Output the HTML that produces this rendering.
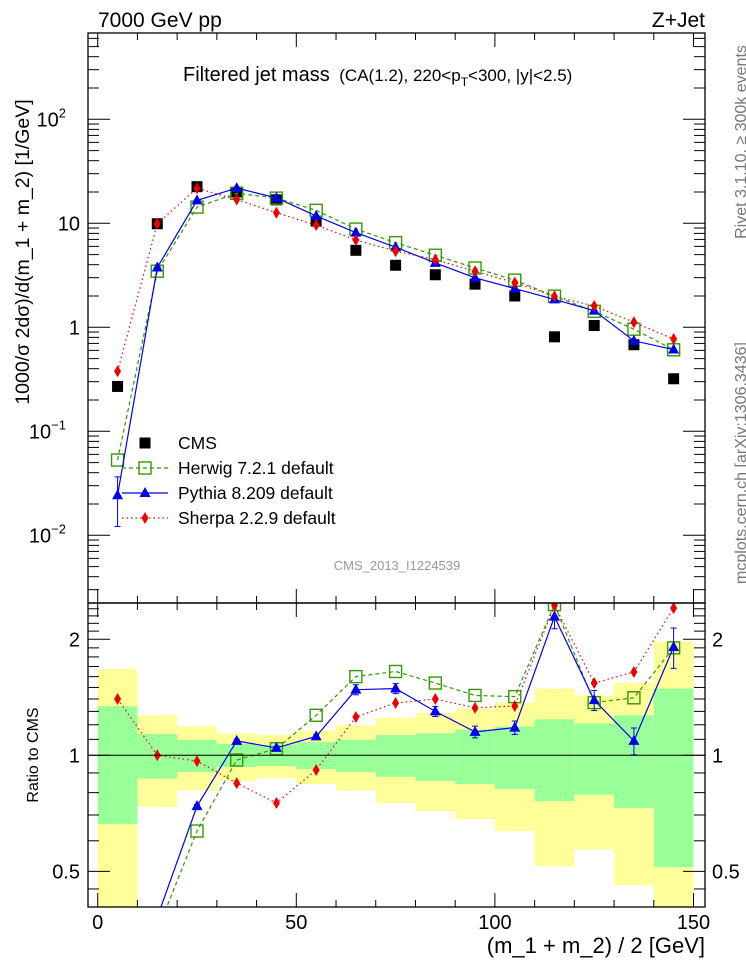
<!DOCTYPE html>
<html><head><meta charset="utf-8"><style>
html,body{margin:0;padding:0;background:#fff;overflow:hidden;width:746px;height:972px;}
svg{display:block;font-family:"Liberation Sans",sans-serif;}
</style></head><body>
<svg id="c" width="746" height="972" viewBox="0 0 746 972" xmlns="http://www.w3.org/2000/svg">
<defs>
<clipPath id="clipM"><rect x="88" y="33" width="617" height="570"/></clipPath>
<clipPath id="clipR"><rect x="88" y="603" width="617" height="304"/></clipPath>
</defs>
<g id="bands" clip-path="url(#clipR)"></g>
<g id="grid"></g>
<g id="series"></g>
<g id="axes"></g>
<text x="98" y="27" font-size="21">7000 GeV pp</text>
<text x="705" y="27" font-size="21" text-anchor="end">Z+Jet</text>
<text x="183" y="81" font-size="20">Filtered jet mass <tspan font-size="17" dx="4">(CA(1.2), 220&lt;p</tspan><tspan font-size="12" dy="5">T</tspan><tspan font-size="17" dy="-5">&lt;300, |y|&lt;2.5)</tspan></text>
<text x="397" y="570" font-size="13" fill="#999" text-anchor="middle">CMS_2013_I1224539</text>
<text transform="translate(746,142) rotate(-90)" font-size="16" fill="#777" text-anchor="middle">Rivet 3.1.10, ≥ 300k events</text>
<text transform="translate(746,463) rotate(-90)" font-size="16" fill="#777" text-anchor="middle">mcplots.cern.ch [arXiv:1306.3436]</text>
<text transform="translate(29,252) rotate(-90)" font-size="19.5" text-anchor="middle">1000/σ 2dσ)/d(m_1 + m_2) [1/GeV]</text>
<text transform="translate(38,755) rotate(-90)" font-size="16" text-anchor="middle">Ratio to CMS</text>
<text x="705" y="953" font-size="22" text-anchor="end">(m_1 + m_2) / 2 [GeV]</text>
<g id="legend"></g>
</svg>
<script>
const centers=[5,15,25,35,45,55,65,75,85,95,105,115,125,135,145];
const cmsVals=[0.27,9.9,22.5,20,16.8,10.5,5.5,3.95,3.2,2.6,2.0,0.81,1.04,0.68,0.32];
const herwigRatio=[0.196,0.35,0.636,0.972,1.04,1.27,1.60,1.65,1.54,1.43,1.42,2.46,1.37,1.41,1.90];
const pythiaRatio=[0.09,0.38,0.738,1.09,1.045,1.12,1.48,1.49,1.30,1.15,1.18,2.29,1.39,1.09,1.91];
const pythiaErr=[0.04,0.01,0.01,0.01,0.01,0.01,0.03,0.03,0.03,0.035,0.04,0.07,0.06,0.08,0.12];
const sherpaRatio=[1.40,1.0,0.966,0.847,0.752,0.916,1.257,1.367,1.40,1.328,1.343,2.45,1.54,1.645,2.41];
const binEdges=[0,10,20,30,40,50,60,70,80,90,100,110,120,130,140,150];
const yellowHi=[1.675,1.27,1.19,1.14,1.13,1.157,1.197,1.25,1.288,1.32,1.37,1.49,1.43,1.54,1.97];
const greenHi=[1.34,1.135,1.096,1.07,1.064,1.082,1.096,1.128,1.14,1.165,1.186,1.24,1.21,1.27,1.49];
const greenLo=[0.664,0.87,0.905,0.932,0.938,0.92,0.905,0.88,0.858,0.842,0.818,0.76,0.79,0.73,0.513];
const yellowLo=[0.3,0.735,0.81,0.858,0.873,0.842,0.81,0.752,0.717,0.683,0.636,0.515,0.57,0.46,0.3];
const xTicks=[0,50,100,150];

const NS="http://www.w3.org/2000/svg";
const X=v=>97.7+v*3.972;
const YM=v=>223.3-104*(Math.log10(v)-1);
const YR=v=>755.3-385.4*Math.log10(v);
function mk(tag,attrs,parent){const e=document.createElementNS(NS,tag);for(const k in attrs)e.setAttribute(k,attrs[k]);parent.appendChild(e);return e;}
const bands=document.getElementById('bands'),axes=document.getElementById('axes'),series=document.getElementById('series'),legend=document.getElementById('legend');

for(let i=0;i<centers.length;i++){
  const x0=X(binEdges[i]),x1=X(binEdges[i+1]);
  let r=mk('rect',{x:x0,y:YR(yellowHi[i]),width:x1-x0,height:YR(yellowLo[i])-YR(yellowHi[i]),fill:'#ffff99'},bands);
  
  
  r=mk('rect',{x:x0,y:YR(greenHi[i]),width:x1-x0,height:YR(greenLo[i])-YR(greenHi[i]),fill:'#99ff99'},bands);
  
  
}
let ul=mk('line',{x1:88,x2:705,y1:YR(1),y2:YR(1),stroke:'#000','stroke-width':1},axes);



let f=mk('rect',{x:88,y:33,width:617,height:570,fill:'none',stroke:'#000','stroke-width':1.3},axes);


f=mk('rect',{x:88,y:603,width:617,height:304,fill:'none',stroke:'#000','stroke-width':1.3},axes);



for(let v=0;v<=150;v+=10){
  const big=v%50===0, L=big?14:7;
  [[33,1],[603,-1],[603,1],[907,-1]].forEach(([y,d])=>{mk('line',{x1:X(v),x2:X(v),y1:y,y2:y+d*L,stroke:'#000'},axes);});
}
xTicks.forEach(v=>{const t=mk('text',{x:X(v),y:929,'font-size':20,'text-anchor':'middle'},axes);t.textContent=v;

});

for(let d=-3;d<=2;d++){for(let m=1;m<=9;m++){const v=m*Math.pow(10,d);const y=YM(v);if(y<33||y>603)continue;const L=m===1?22:11;
 mk('line',{x1:88,x2:88+L,y1:y,y2:y,stroke:'#000'},axes);mk('line',{x1:705,x2:705-L,y1:y,y2:y,stroke:'#000'},axes);}}
const mainLabels=[[100,'10','2'],[10,'10',''],[1,'1',''],[0.1,'10','−1'],[0.01,'10','−2']];
mainLabels.forEach(([v,b,e])=>{const t=mk('text',{x:e?66:80,y:YM(v)+7,'font-size':20,'text-anchor':'end'},axes);
 
 
 t.textContent=b; if(e){const s=mk('tspan',{'font-size':13,dy:-9},t);s.textContent=e;}});

const rt=[0.45,0.5,0.6,0.7,0.8,0.9,1,2,2.1,2.2,2.3,2.4,1.1,1.2,1.3,1.4,1.5,1.6,1.7,1.8,1.9];
rt.forEach(v=>{const y=YR(v);if(y<603||y>907)return;const big=(v===0.5||v===1||v===2);const L=big?22:11;
 mk('line',{x1:88,x2:88+L,y1:y,y2:y,stroke:'#000'},axes);mk('line',{x1:705,x2:705-L,y1:y,y2:y,stroke:'#000'},axes);});
[[2,'2'],[1,'1'],[0.5,'0.5']].forEach(([v,s])=>{[[80,'end'],[712,'start']].forEach(([x,a])=>{const t=mk('text',{x:x,y:YR(v)+7,'font-size':20,'text-anchor':a},axes);t.textContent=s;
 
 });});

const herwig=cmsVals.map((c,i)=>c*herwigRatio[i]);
const pythia=cmsVals.map((c,i)=>c*pythiaRatio[i]);
const sherpa=cmsVals.map((c,i)=>c*sherpaRatio[i]);
const gM=mk('g',{'clip-path':'url(#clipM)'},series), gR=mk('g',{'clip-path':'url(#clipR)'},series);
function marker(kind,x,y,p,color){
  if(kind==='sq'){return mk('rect',{x:x-5.5,y:y-5.5,width:11,height:11,fill:'#000'},p);}
  if(kind==='open'){return mk('rect',{x:x-6,y:y-6,width:12,height:12,fill:'none',stroke:color,'stroke-width':1.4},p);}
  if(kind==='tri'){return mk('path',{d:`M${x},${y-6}L${x+5.5},${y+4}L${x-5.5},${y+4}Z`,fill:color},p);}
  if(kind==='dia'){return mk('path',{d:`M${x},${y-6}L${x+3.5},${y}L${x},${y+6}L${x-3.5},${y}Z`,fill:color},p);}
}
function draw(vals,Y,p,color,dash,kind,name,err){
  const pts=centers.map((c,i)=>X(c)+','+Y(vals[i])).join(' ');
  const pl=mk('polyline',{points:pts,fill:'none',stroke:color,'stroke-width':1.2,'stroke-dasharray':dash},p);
  
  
  centers.forEach((c,i)=>{
    if(err){const y1=Y(vals[i]*(1+err[i])),y2=Y(Math.max(vals[i]*(1-err[i]),1e-6));
      mk('line',{x1:X(c),x2:X(c),y1:y1,y2:y2,stroke:color},p);
      mk('line',{x1:X(c)-3,x2:X(c)+3,y1:y1,y2:y1,stroke:color},p);
      mk('line',{x1:X(c)-3,x2:X(c)+3,y1:y2,y2:y2,stroke:color},p);}
    const m=marker(kind,X(c),Y(vals[i]),p,color);
    
    
  });
}
centers.forEach((c,i)=>{const m=marker('sq',X(c),YM(cmsVals[i]),gM);
 
 });
draw(herwig,YM,gM,'#339900','4,3','open','herwig');
draw(pythia,YM,gM,'#0000ee','','tri','pythia',[0.5,0,0,0,0,0,0,0,0,0,0,0,0,0,0]);
draw(sherpa,YM,gM,'#ee0000','1.5,3','dia','sherpa');
draw(herwigRatio,YR,gR,'#339900','4,3','open','herwig-ratio');
draw(pythiaRatio,YR,gR,'#0000ee','','tri','pythia-ratio',pythiaErr);
draw(sherpaRatio,YR,gR,'#ee0000','1.5,3','dia','sherpa-ratio');

const leg=[['CMS','sq','#000',''],['Herwig 7.2.1 default','open','#339900','4,3'],['Pythia 8.209 default','tri','#0000ee',''],['Sherpa 2.2.9 default','dia','#ee0000','1.5,3']];
leg.forEach(([lbl,k,col,dash],i)=>{const y=443+i*25;const g=mk('g',{},legend);
 
 
 if(k!=='sq')mk('line',{x1:122,x2:168,y1:y,y2:y,stroke:col,'stroke-width':1.2,'stroke-dasharray':dash},g);
 marker(k,145,y,g,col);
 const t=mk('text',{x:178,y:y+6,'font-size':17.5},g);t.textContent=lbl;});
</script>
</body></html>
